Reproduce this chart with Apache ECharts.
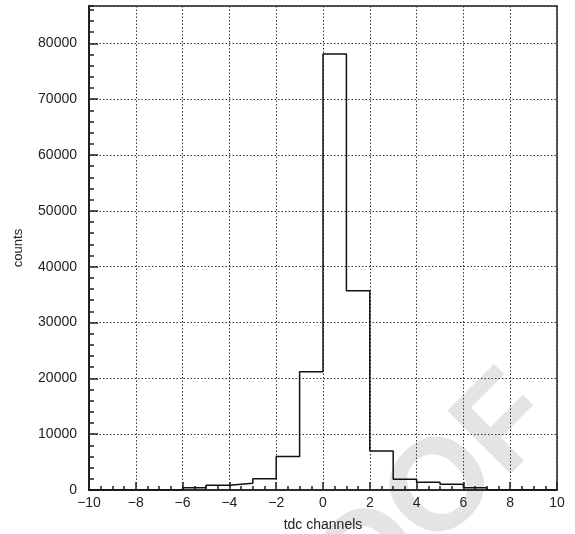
<!DOCTYPE html>
<html>
<head>
<meta charset="utf-8">
<script src="https://cdn.jsdelivr.net/npm/echarts@6/dist/echarts.min.js"></script>
<style>html,body{margin:0;padding:0;background:#fff}#c{width:575px;height:534px}</style>
</head>
<body>
<div id="c"></div>
<script>
// Bin left edges (width 1) and counts
var binEdges = [-10,-9,-8,-7,-6,-5,-4,-3,-2,-1,0,1,2,3,4,5,6,7,8,9];
var binCounts = [0,0,0,0,400,850,1200,2030,5980,21180,78100,35700,7000,1920,1380,1020,410,0,0,0];
var xTicks = [-10,-8,-6,-4,-2,0,2,4,6,8,10];
var yTicks = [0,10000,20000,30000,40000,50000,60000,70000,80000];
var xTitle = 'tdc channels';
var yTitle = 'counts';

var stepData = binEdges.map(function(e,i){return [e, binCounts[i]];});
stepData.push([10, 0]);

var FONT = 'Liberation Sans, Arial, sans-serif';
var chart = echarts.init(document.getElementById('c'), null, {renderer:'canvas'});
var yMax = 86700;
chart.setOption({
  animation:false,
  backgroundColor:'#fff',
  grid:{left:89,right:18,top:6,bottom:44,show:true,borderColor:'#222',borderWidth:1.5,backgroundColor:'transparent',
    containLabel:false, outerBoundsMode:'none'},
  graphic:[{
    type:'text', z:-10,
    x:372, y:562, rotation:Math.PI/4,
    style:{text:'PROOF', font:'bold 130px '+FONT, fill:'#e4e4e4', align:'center', verticalAlign:'middle'}
  }],
  xAxis:{
    type:'value', min:-10, max:10, interval:2,
    name:xTitle, nameLocation:'middle', nameGap:28,
    nameTextStyle:{fontFamily:FONT,fontSize:14,color:'#222'},
    axisLine:{show:true,onZero:false,lineStyle:{color:'#222',width:1.5}},
    axisTick:{show:true,inside:true,length:8,lineStyle:{color:'#222',width:1.5}},
    minorTick:{show:true,splitNumber:4,length:4,lineStyle:{color:'#222',width:1.5}},
    splitLine:{show:true,lineStyle:{type:[1.5,2],color:'#333',width:1}},
    axisLabel:{fontFamily:FONT,fontSize:14,color:'#222',margin:6,
      formatter:function(v){return xTicks.indexOf(v)<0?'':(v<0?'\u2212'+Math.abs(v):String(v));}}
  },
  yAxis:[{
    type:'value', min:0, max:yMax, interval:10000,
    name:yTitle, nameLocation:'middle', nameGap:64, nameRotate:90,
    nameTextStyle:{fontFamily:FONT,fontSize:13,color:'#222'},
    axisLine:{show:true,onZero:false,lineStyle:{color:'#222',width:2}},
    axisTick:{show:true,inside:true,length:9,lineStyle:{color:'#222',width:1.5}},
    splitLine:{show:true,lineStyle:{type:[1.5,2],color:'#333',width:1}},
    axisLabel:{fontFamily:FONT,fontSize:14,color:'#222',margin:12,showMaxLabel:false,
      formatter:function(v){return yTicks.indexOf(v)<0?'':String(v);}}
  },{
    type:'value', min:0, max:yMax, interval:2000, position:'left', alignTicks:false,
    axisLine:{show:false,onZero:false}, axisLabel:{show:false}, splitLine:{show:false},
    axisTick:{show:true,inside:true,length:5,lineStyle:{color:'#222',width:1.5}}
  }],
  series:[{
    type:'line', step:'end', data:stepData, symbol:'none',
    lineStyle:{color:'#111',width:1.5}, z:5
  }]
});
</script>
</body>
</html>
